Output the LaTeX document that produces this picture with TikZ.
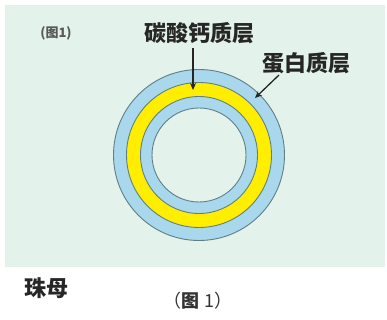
\documentclass[tikz,border=0pt]{standalone}
\usepackage{fontspec}
\newfontfamily\cjk{Noto Sans CJK SC}
\usetikzlibrary{arrows.meta}
\definecolor{panel}{HTML}{E3F3EB}
\definecolor{ringblue}{HTML}{A9D7EC}
\definecolor{ringyellow}{HTML}{FFEE00}
\definecolor{ringedge}{HTML}{5F7F88}
\tikzset{
  ring/.style={draw=ringedge, line width=0.9pt},
  label/.style={font=\cjk\bfseries\fontsize{22}{24}\selectfont, text=black!85, inner sep=0pt},
  pointer/.style={draw=black!85, line width=1.3pt, -{Stealth[length=7pt,width=6pt]}},
}
\begin{document}
\begin{tikzpicture}[x=1pt,y=-1pt]
\useasboundingbox (0,0) rectangle (387,320);
\fill[white] (0,0) rectangle (387,320);
\fill[panel] (5,5) rectangle (385,267);
% rings
\coordinate (c) at (199,155);
\fill[ringblue, ring] (c) circle[radius=85.5];
\fill[ringyellow, ring] (c) circle[radius=72.5];
\fill[ringblue, ring] (c) circle[radius=58.5];
\fill[panel, ring] (c) circle[radius=47];
% labels
\node[label] (caco) at (199,33) {碳酸钙质层};
\node[label] (prot) at (306,63) {蛋白质层};
\node[font=\cjk\bfseries\fontsize{13}{14}\selectfont, text=black!65, inner sep=0pt] (fig) at (56,33) {(图1)};
\node[label] (zm) at (46,288) {珠母};
\node[font=\cjk\fontsize{18}{20}\selectfont, text=black!80, inner sep=0pt] (cap) at (198,301) {（\textbf{图} 1）};
% arrows
\coordinate (a1) at (193,90);
\coordinate (a2) at (255,98);
\draw[pointer] (caco.south -| a1) ++(0,4) -- (a1);
\draw[pointer] (279,75) -- (a2);
\end{tikzpicture}
\end{document}
